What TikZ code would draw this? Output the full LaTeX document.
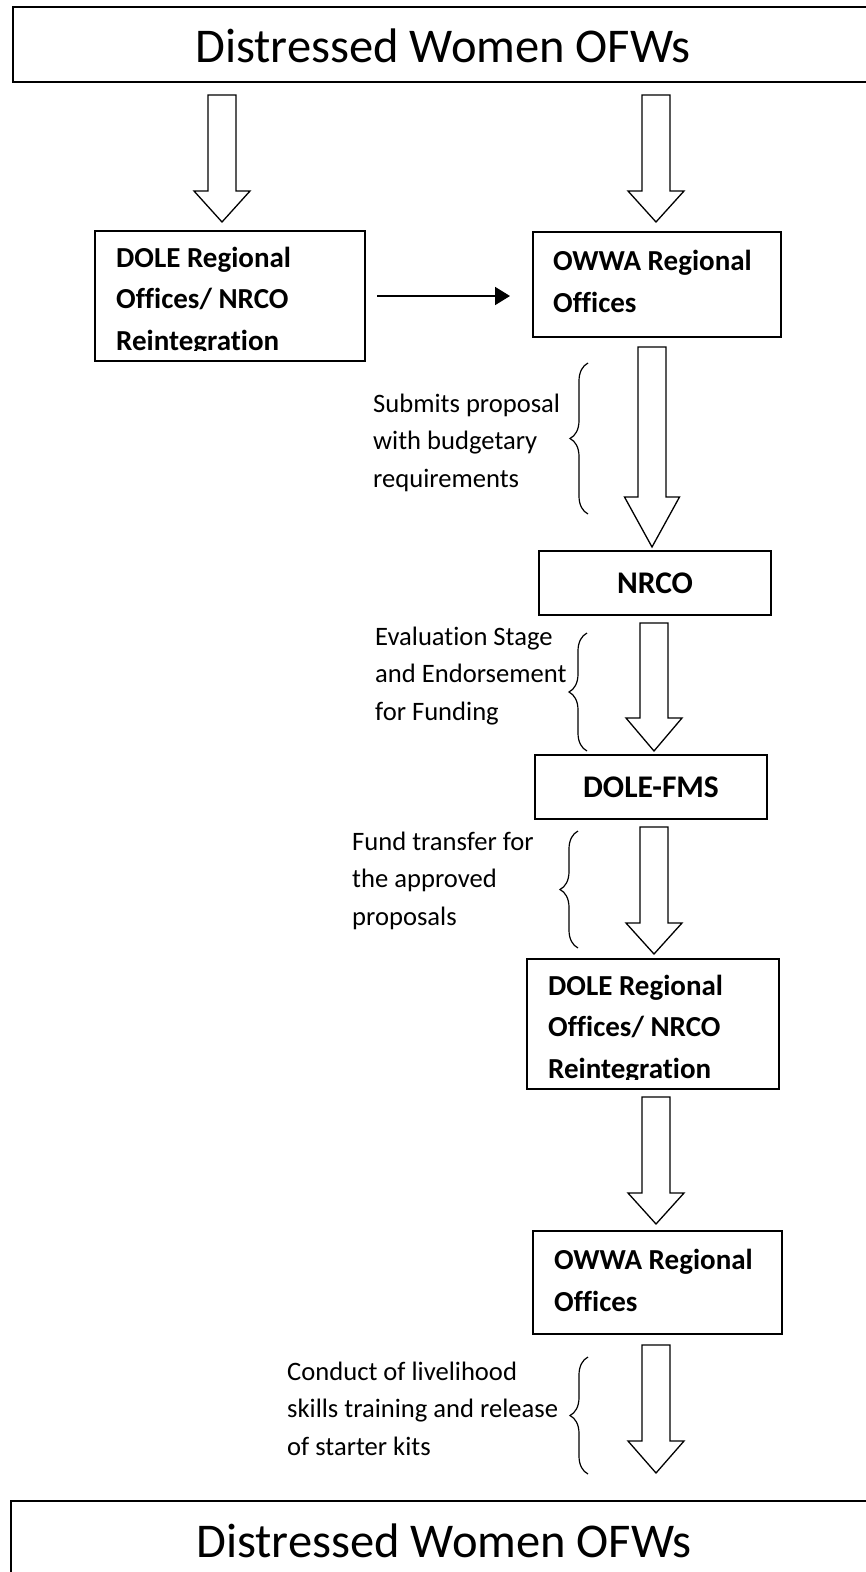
\documentclass[tikz,border=0pt]{standalone}
\usepackage{fontspec}
\setmainfont{Carlito}[Ligatures=NoCommon]
\usetikzlibrary{arrows.meta,decorations.pathreplacing,calc}
\newcommand\blkarrow[4]{%
  \path[barrow] let \p1=(#1), \p2=(#2) in
   (\x1-14pt,\y1) -- (\x1+14pt,\y1) -- (\x1+14pt,\y2+#3) -- (\x1+#4,\y2+#3)
   -- (\x2,\y2) -- (\x1-#4,\y2+#3) -- (\x1-14pt,\y2+#3) -- cycle;}
\begin{document}
\begin{tikzpicture}[x=1pt,y=-1pt,
  box/.style={draw, line width=2.4pt, inner sep=0pt, outer sep=0pt, anchor=north west},
  barrow/.style={draw, line width=1.3pt, fill=white, line join=miter},
  brc/.style={draw, line width=1.2pt, decorate, decoration={brace, amplitude=18pt}},
  lbl/.style={anchor=base west, align=left, font=\fontsize{26.6}{37.5}\selectfont, inner sep=0pt},
  blbl/.style={anchor=base west, align=left, font=\fontsize{29}{41.5}\selectfont\bfseries, inner sep=0pt},
  bfont/.style={font=\fontsize{31.5}{36}\selectfont\bfseries},
  title/.style={anchor=base, font=\fontsize{48.5}{56}\selectfont, inner sep=0pt},
  harrow/.style={line width=1.8pt, -{Triangle[length=15pt,width=18pt]}}
]
\clip (0,0) rectangle (866,1572);
\fill[white] (0,0) rectangle (866,1572);

% boxes
\node[box, minimum width=858pt, minimum height=75pt] (top) at (12.7,7) {};
\node[box, minimum width=270pt, minimum height=130pt] (l1) at (95,231) {};
\node[box, minimum width=248pt, minimum height=105pt] (r1) at (533,232) {};
\node[box, bfont, minimum width=232pt, minimum height=64pt] (nrco) at (539,551) {NRCO};
\node[box, bfont, minimum width=232pt, minimum height=64pt] (fms) at (535,755) {DOLE-FMS};
\node[box, minimum width=252pt, minimum height=130pt] (l2) at (527,959) {};
\node[box, minimum width=249pt, minimum height=103pt] (r2) at (533,1231) {};
\node[box, minimum width=862pt, minimum height=100pt] (bot) at (11,1501) {};

% titles
\node[title] (toptitle) at (443,62) {Distressed Women OFWs};
\node[title] (bottitle) at (444,1557) {Distressed Women OFWs};

% box texts (anchored at the baseline of the last line)
\begin{scope}
\clip (l1.north west) rectangle ([yshift=11pt]l1.south east);
\node[blbl] (l1t) at (116,350) {DOLE Regional\\Offices/ NRCO\\Reintegration};
\end{scope}
\node[blbl] (r1t) at (553,312) {OWWA Regional\\Offices};
\begin{scope}
\clip (l2.north west) rectangle ([yshift=10pt]l2.south east);
\node[blbl] (l2t) at (548,1078) {DOLE Regional\\Offices/ NRCO\\Reintegration};
\end{scope}
\node[blbl] (r2t) at (554,1311) {OWWA Regional\\Offices};

% block arrows
\coordinate (a1s) at (222,95);   \coordinate (a1e) at (222,222);
\coordinate (a2s) at (656,95);   \coordinate (a2e) at (656,222);
\coordinate (a3s) at (652,347);  \coordinate (a3e) at (652,547);
\coordinate (a4s) at (654,623);  \coordinate (a4e) at (654,751);
\coordinate (a5s) at (654,827);  \coordinate (a5e) at (654,954);
\coordinate (a6s) at (656,1097); \coordinate (a6e) at (656,1224);
\coordinate (a7s) at (656,1345); \coordinate (a7e) at (656,1473);
\blkarrow{a1s}{a1e}{31pt}{28pt}
\blkarrow{a2s}{a2e}{31pt}{28pt}
\blkarrow{a3s}{a3e}{50pt}{27.5pt}
\blkarrow{a4s}{a4e}{33pt}{28pt}
\blkarrow{a5s}{a5e}{31pt}{28pt}
\blkarrow{a6s}{a6e}{31pt}{28pt}
\blkarrow{a7s}{a7e}{32pt}{28pt}

% horizontal arrow
\draw[harrow] ([xshift=12pt]l1.east) -- ++(133,0);

% braces
\draw[brc] (588,514) -- (588,363);
\draw[brc] (587,751) -- (587,633);
\draw[brc] (578,948) -- (578,831);
\draw[brc] (588,1474) -- (588,1357);

% annotations (anchored at the baseline of the last line)
\node[lbl] (t1) at (373,487) {Submits proposal\\with budgetary\\requirements};
\node[lbl] (t2) at (375,720) {Evaluation Stage\\and Endorsement\\for Funding};
\node[lbl] (t3) at (352,925) {Fund transfer for\\the approved\\proposals};
\node[lbl] (t4) at (287,1455) {Conduct of livelihood\\skills training and release\\of starter kits};
\end{tikzpicture}
\end{document}
